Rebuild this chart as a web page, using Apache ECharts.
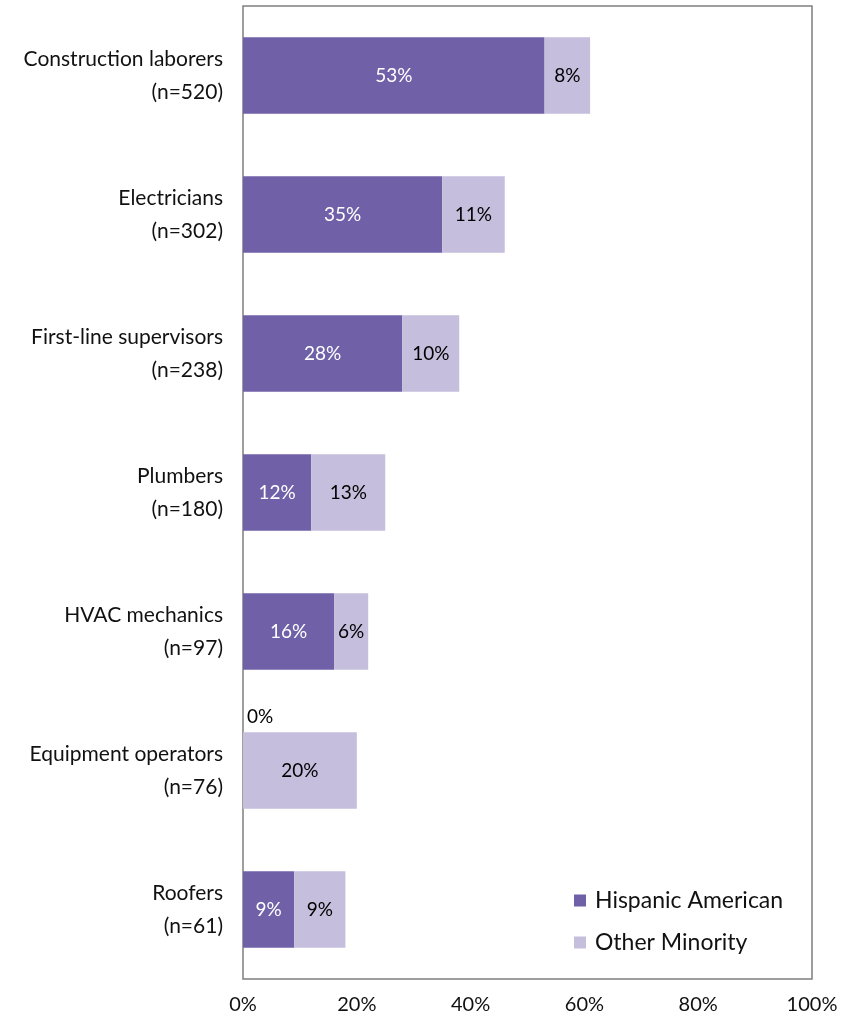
<!DOCTYPE html>
<html>
<head>
<meta charset="utf-8">
<script src="https://cdn.jsdelivr.net/npm/echarts@6/dist/echarts.min.js"></script>
<style>
  html, body { margin: 0; padding: 0; background: #fff; }
  #chart { width: 850px; height: 1017px; }
</style>
</head>
<body>
<div id="chart"></div>
<script>
// Occupations with sample size, top to bottom
const categories = [
  'Construction laborers\n(n=520)',
  'Electricians\n(n=302)',
  'First-line supervisors\n(n=238)',
  'Plumbers\n(n=180)',
  'HVAC mechanics\n(n=97)',
  'Equipment operators\n(n=76)',
  'Roofers\n(n=61)'
];
// Share of workers (%)
const hispanicAmerican = [53, 35, 28, 12, 16, 0, 9];
const otherMinority = [8, 11, 10, 13, 6, 20, 9];
const xTicks = [0, 20, 40, 60, 80, 100];

const FONT = 'Lato';
const chart = echarts.init(document.getElementById('chart'));

// A zero-width bar still gets its value written just above its start
const hispanicData = hispanicAmerican.map(v => {
  if (v === 0) {
    return {
      value: v,
      label: { show: true, position: [4, -25], color: '#000' }
    };
  }
  return v;
});

chart.setOption({
  animation: false,
  textStyle: { fontFamily: FONT },
  grid: {
    left: 243, right: 38, top: 6, bottom: 38,
    show: true, borderColor: '#7f7f7f', borderWidth: 1.5,
    containLabel: false
  },
  legend: {
    orient: 'vertical',
    left: 569, top: 884,
    itemWidth: 12, itemHeight: 12, itemGap: 19,
    icon: 'rect',
    textStyle: { fontFamily: FONT, fontSize: 23, color: '#111', padding: [0, 0, 0, 4] },
    data: ['Hispanic American', 'Other Minority']
  },
  xAxis: {
    type: 'value', min: 0, max: 100, interval: 20,
    axisLine: { show: false }, axisTick: { show: false },
    splitLine: { show: false },
    axisLabel: {
      margin: 16, fontSize: 20, color: '#111', fontFamily: FONT,
      formatter: v => xTicks.includes(v) ? v + '%' : ''
    }
  },
  yAxis: {
    type: 'category', inverse: true, data: categories,
    axisLine: { show: false }, axisTick: { show: false },
    axisLabel: {
      margin: 20, fontSize: 21, lineHeight: 33, color: '#111',
      fontFamily: FONT, align: 'right', padding: [5, 0, 0, 0]
    }
  },
  series: [
    {
      name: 'Hispanic American', type: 'bar', stack: 'share',
      barWidth: '55%',
      itemStyle: { color: '#7060A8' },
      label: {
        show: true, position: 'inside', color: '#fff', fontSize: 19,
        fontFamily: FONT, formatter: '{c}%'
      },
      data: hispanicData
    },
    {
      name: 'Other Minority', type: 'bar', stack: 'share',
      barWidth: '55%',
      itemStyle: { color: '#C5BEDC' },
      label: {
        show: true, position: 'inside', color: '#000', fontSize: 19,
        fontFamily: FONT, formatter: '{c}%'
      },
      data: otherMinority
    }
  ]
});
</script>
</body>
</html>
